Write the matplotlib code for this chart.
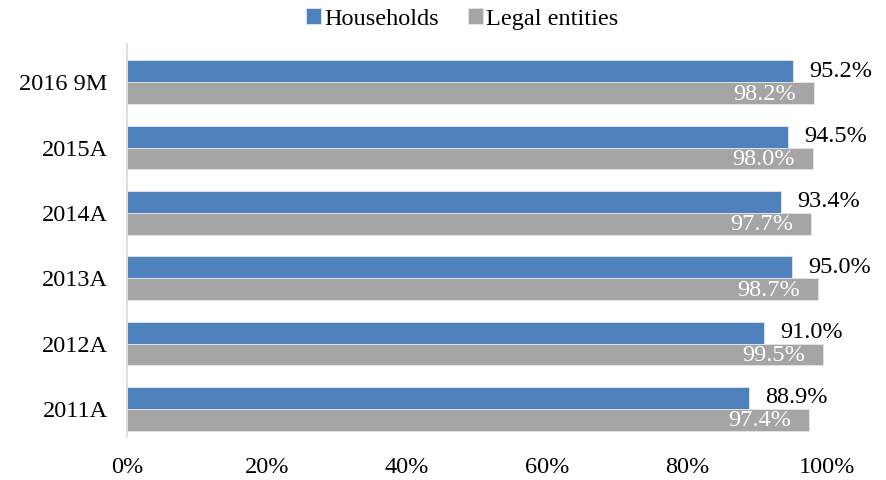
import matplotlib
matplotlib.use("Agg")
import matplotlib.pyplot as plt
import numpy as np
from matplotlib.ticker import FuncFormatter

categories = ["2011A", "2012A", "2013A", "2014A", "2015A", "2016 9M"]
households = [88.9, 91.0, 95.0, 93.4, 94.5, 95.2]
legal_entities = [97.4, 99.5, 98.7, 97.7, 98.0, 98.2]
xticks = [0, 20, 40, 60, 80, 100]

plt.rcParams['font.family'] = ['Liberation Serif', 'DejaVu Serif']

fig = plt.figure(figsize=(8.87, 4.80), dpi=100)
ax = fig.add_axes([127/887, 1-441.5/480, 700/887, 392/480])

y = np.arange(len(categories))
h = 0.335
blue = "#4F81BD"
gray = "#A5A5A5"
bh = ax.barh(y + h/2, households, height=h, color=blue, edgecolor="#dfe8f3", linewidth=0.6, label="Households")
bl = ax.barh(y - h/2, legal_entities, height=h, color=gray, edgecolor="#e6e6e6", linewidth=0.6, label="Legal entities")

fs = 17.5
for yi, v in zip(y, households):
    ax.annotate(f"{v:.1f}%", xy=(v, yi + h/2), xytext=(16, 0), textcoords="offset pixels",
                ha="left", va="center", fontsize=fs, color="black")
for yi, v in zip(y, legal_entities):
    ax.annotate(f"{v:.1f}%", xy=(v, yi - h/2), xytext=(-18, -1), textcoords="offset pixels",
                ha="right", va="center", fontsize=fs, color="white")

ax.set_xlim(0, 100)
ax.set_ylim(-0.5, len(categories) - 0.5)
ax.set_xticks(xticks)
ax.xaxis.set_major_formatter(FuncFormatter(lambda v, p: f"{v:.0f}%"))
ax.set_yticks(y)
ax.set_yticklabels(categories)
ax.tick_params(axis="both", length=0, labelsize=fs)
ax.tick_params(axis="x", pad=11)
ax.tick_params(axis="y", pad=14)
for s in ["top", "right", "bottom"]:
    ax.spines[s].set_visible(False)
ax.spines["left"].set_color("#D9D9D9")
ax.spines["left"].set_linewidth(1.2)
ax.spines["left"].set_bounds(-0.43, 5.58)

fig.legend(handles=[bh, bl], loc="center", bbox_to_anchor=(0.5 + 19/887, 1-19/480), ncol=2, frameon=False,
           fontsize=fs, handlelength=0.6, handleheight=0.6, handletextpad=0.15, columnspacing=1.2)

fig.savefig("out.png", dpi=100)
